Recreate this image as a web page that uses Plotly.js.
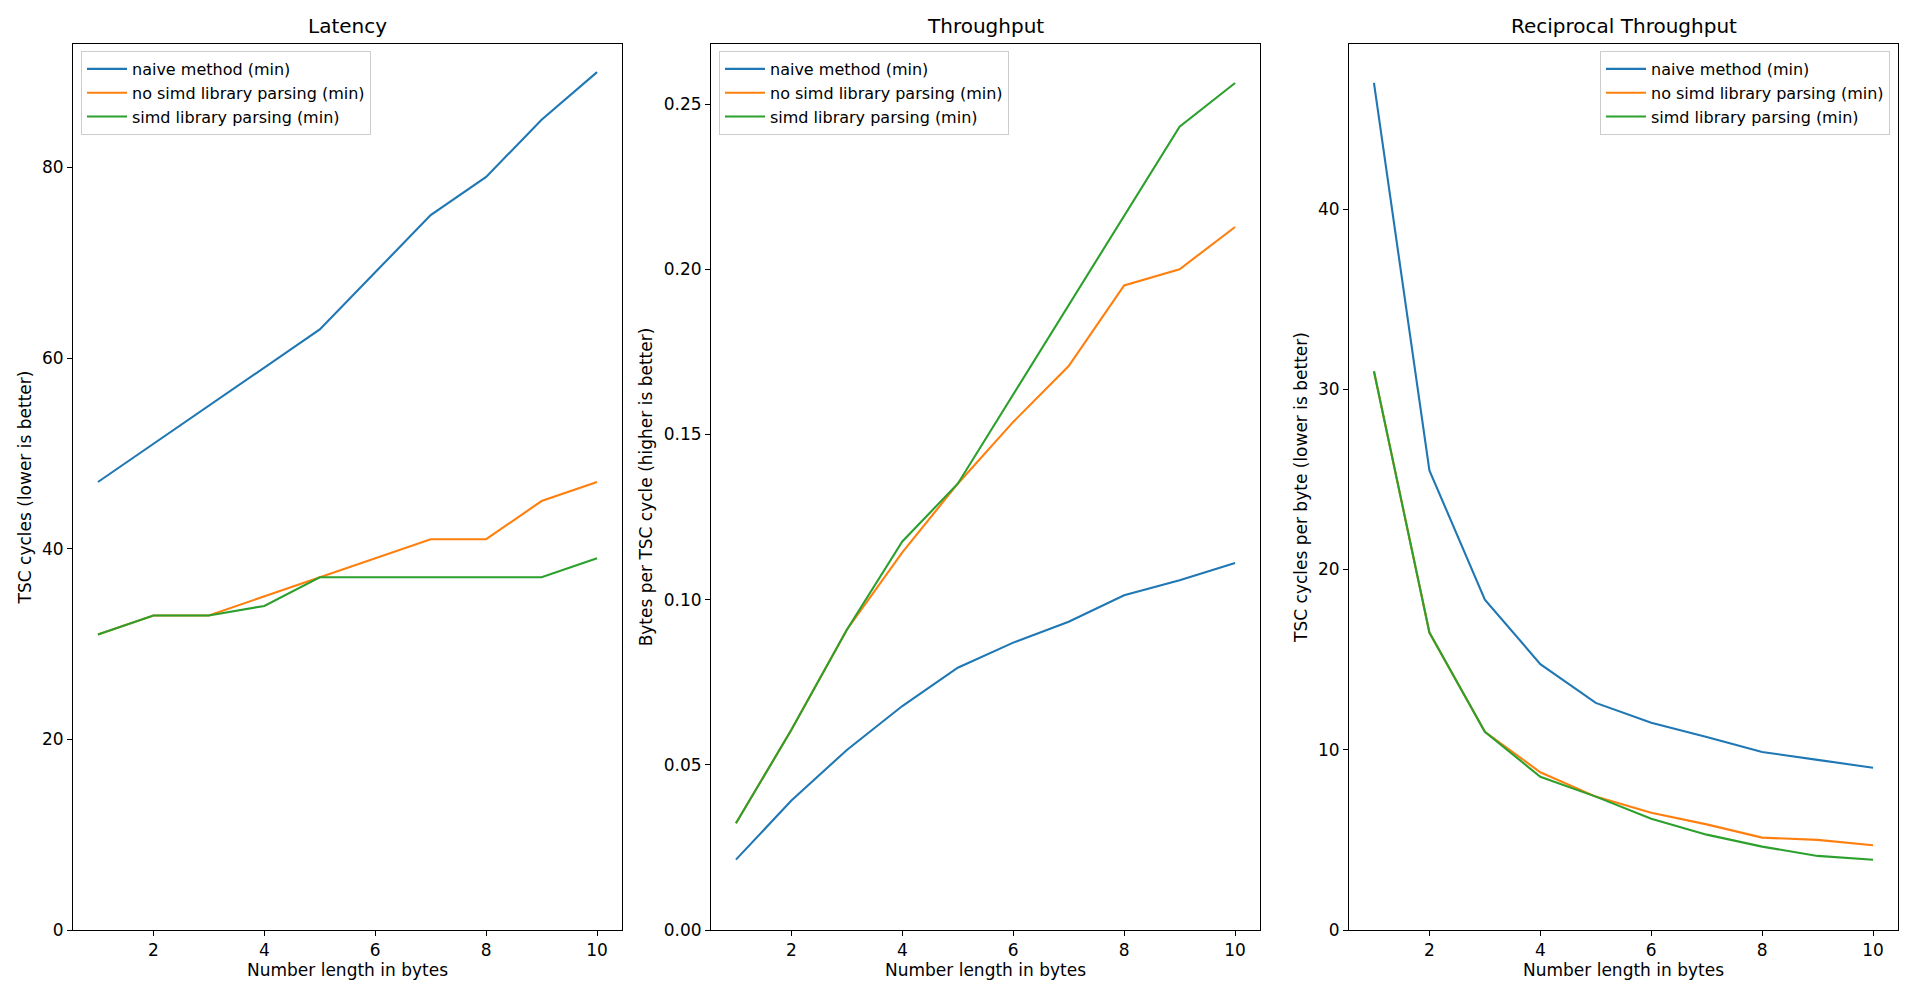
<!DOCTYPE html>
<html>
<head>
<meta charset="utf-8">
<script src="https://cdn.plot.ly/plotly-3.0.1.min.js"></script>
<style>
html,body{margin:0;padding:0;background:#fff;}
#chart{width:1916px;height:996px;}
</style>
</head>
<body>
<div id="chart"></div>
<script>
// ---- data ----
const lengths = [1, 2, 3, 4, 5, 6, 7, 8, 9, 10];
const seriesNames = ["naive method (min)", "no simd library parsing (min)", "simd library parsing (min)"];
const seriesColors = ["#1f77b4", "#ff7f0e", "#2ca02c"];

const latencyNaive  = [47, 51, 55, 59, 63, 69, 75, 79, 85, 90];
const latencyNoSimd = [31, 33, 33, 35, 37, 39, 41, 41, 45, 47];
const latencySimd   = [31, 33, 33, 34, 37, 37, 37, 37, 37, 39];

const throughputNaive  = [0.0213, 0.0392, 0.0545, 0.0678, 0.0794, 0.0870, 0.0933, 0.1013, 0.1059, 0.1111];
const throughputNoSimd = [0.0323, 0.0606, 0.0909, 0.1143, 0.1351, 0.1538, 0.1707, 0.1951, 0.2000, 0.2128];
const throughputSimd   = [0.0323, 0.0606, 0.0909, 0.1176, 0.1351, 0.1622, 0.1892, 0.2162, 0.2432, 0.2564];

const recipNaive  = [47.0, 25.5, 18.33, 14.75, 12.6, 11.5, 10.71, 9.875, 9.44, 9.0];
const recipNoSimd = [31.0, 16.5, 11.0, 8.75, 7.4, 6.5, 5.86, 5.125, 5.0, 4.7];
const recipSimd   = [31.0, 16.5, 11.0, 8.5, 7.4, 6.17, 5.29, 4.625, 4.11, 3.9];

const panelTitles = ["Latency", "Throughput", "Reciprocal Throughput"];
const yTitles = ["TSC cycles (lower is better)", "Bytes per TSC cycle (higher is better)", "TSC cycles per byte (lower is better)"];
const xTitle = "Number length in bytes";

// ---- build ----
(function () {
const W = 1916, H = 996;
const font = "DejaVu Sans, Liberation Sans, sans-serif";
const fs = 17;
const panels = [
  [latencyNaive, latencyNoSimd, latencySimd],
  [throughputNaive, throughputNoSimd, throughputSimd],
  [recipNaive, recipNoSimd, recipSimd]
];
const axisSuffix = ["", "2", "3"];
const legendIds = ["legend", "legend2", "legend3"];

const traces = [];
panels.forEach((sets, p) => {
  sets.forEach((vals, s) => {
    traces.push({
      x: lengths, y: vals, type: "scatter", mode: "lines",
      name: seriesNames[s],
      line: {color: seriesColors[s], width: 2.1},
      xaxis: "x" + axisSuffix[p], yaxis: "y" + axisSuffix[p],
      legend: legendIds[p],
      hoverinfo: "x+y"
    });
  });
});

const px = [[73, 622], [711, 1260], [1349, 1898]];
const plotTop = 44, plotBottom = 930;
const yDom = [1 - plotBottom / H, 1 - plotTop / H];
const yRanges = [[0, 92.95], [0, 0.2682], [0, 49.155]];
const yTicks = [[0, 20, 40, 60, 80], [0, 0.05, 0.10, 0.15, 0.20, 0.25], [0, 10, 20, 30, 40]];

const layout = {
  width: W, height: H,
  margin: {l: 0, r: 0, t: 0, b: 0},
  paper_bgcolor: "#fff", plot_bgcolor: "#fff",
  font: {family: font, size: fs, color: "#000"},
  showlegend: true,
  annotations: []
};

const legendBase = {
  bgcolor: "rgba(255,255,255,0.8)", bordercolor: "#cccccc", borderwidth: 1,
  font: {family: font, size: 16, color: "#000"},
  yanchor: "top", y: 1 - 51 / H,
  tracegroupgap: 0, itemwidth: 40
};
layout.legend  = Object.assign({}, legendBase, {x: 81 / W, xanchor: "left"});
layout.legend2 = Object.assign({}, legendBase, {x: 719 / W, xanchor: "left"});
layout.legend3 = Object.assign({}, legendBase, {x: 1890 / W, xanchor: "right"});

for (let p = 0; p < 3; p++) {
  const xa = "xaxis" + axisSuffix[p], ya = "yaxis" + axisSuffix[p];
  layout[xa] = {
    domain: [px[p][0] / W, px[p][1] / W],
    anchor: "y" + axisSuffix[p],
    range: [0.55, 10.45],
    tickvals: [2, 4, 6, 8, 10],
    ticks: "outside", ticklen: 5, tickwidth: 1, tickcolor: "#000",
    showline: true, linecolor: "#000", linewidth: 1, mirror: true,
    showgrid: false, zeroline: false,
    tickfont: {family: font, size: fs, color: "#000"},
    title: {text: xTitle, font: {family: font, size: fs, color: "#000"}, standoff: 4}
  };
  layout[ya] = {
    domain: yDom,
    anchor: "x" + axisSuffix[p],
    range: yRanges[p],
    tickvals: yTicks[p],
    tickformat: p === 1 ? ".2f" : "d",
    ticks: "outside", ticklen: 5, tickwidth: 1, tickcolor: "#000",
    showline: true, linecolor: "#000", linewidth: 1, mirror: true,
    showgrid: false, zeroline: false,
    tickfont: {family: font, size: fs, color: "#000"},
    title: {text: yTitles[p], font: {family: font, size: fs, color: "#000"}, standoff: 6}
  };
  layout.annotations.push({
    text: panelTitles[p], xref: "paper", yref: "paper",
    x: (px[p][0] + px[p][1]) / 2 / W, y: 1 - 26 / H,
    xanchor: "center", yanchor: "middle", showarrow: false,
    font: {family: font, size: 20, color: "#000"}
  });
}

Plotly.newPlot("chart", traces, layout, {displayModeBar: false, staticPlot: true});
})();
</script>
</body>
</html>
